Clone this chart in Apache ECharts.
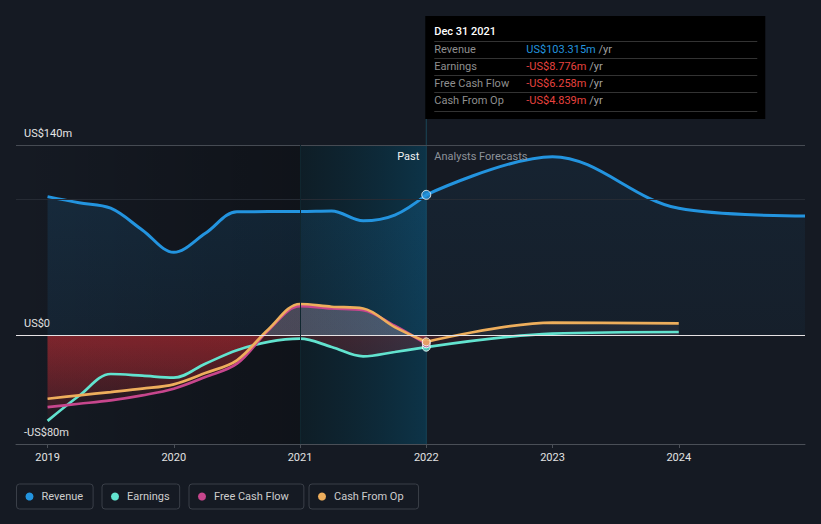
<!DOCTYPE html>
<html><head><meta charset="utf-8">
<script src="https://cdn.jsdelivr.net/npm/echarts@6/dist/echarts.min.js"></script>
<style>html,body{margin:0;padding:0;background:#151a23;}#c{width:821px;height:524px;}</style>
</head><body><div id="c"></div>
<script>
// ---- data (US$ millions, x = decimal year) ----
const periods = [2019, 2019.25, 2019.5, 2019.75, 2020, 2020.25, 2020.5, 2020.75, 2021, 2021.25, 2021.5, 2021.75, 2022];
const forecastPeriods = [2023, 2024, 2025];
const revenuePast = [102, 97.5, 93.5, 77.5, 61, 75, 90.9, 91, 91, 91.4, 84.2, 88.4, 103.315];
const revenueForecast = [131.4, 93.4, 87.7];
const earningsPast = [-63, -44.5, -28.5, -29.7, -31.2, -20.9, -11, -4.9, -2.5, -8.6, -15.5, -12.3, -8.776];
const earningsForecast = [1.2, 2.4];
const fcfPast = [-52.8, -50.4, -47.9, -44.2, -39.3, -30.7, -20.9, 3.7, 21.4, 19.7, 18.4, 7, -6.258];
const cfoPast = [-46.7, -44.2, -41.8, -39.3, -36.1, -27.8, -18.4, 4.5, 23, 21, 19.7, 6, -4.839];
const cfoForecast = [9.3, 8.8];
const xTicks = [2019, 2020, 2021, 2022, 2023, 2024];
const yTicks = [-80, 0, 140];
const yGuide = 100;
const names = ['Revenue', 'Earnings', 'Free Cash Flow', 'Cash From Op'];
const colors = ['#2394df', '#62e3cf', '#c7468d', '#eeae5c'];
const tooltipDate = 'Dec 31 2021';
const pastLabel = 'Past';
const forecastLabel = 'Analysts Forecasts';
const xMin = 2018.75, xMax = 2025, yMin = -80, yMax = 140;
const nowX = periods[periods.length - 1];
const pastStartX = 2021;

const FONT = 'Roboto, "Noto Sans", sans-serif';
const pairs = (xs, ys) => ys.map((v, i) => [xs[i], v]);
const last = a => a[a.length - 1];
const fc = (past, f) => [[nowX, last(past)]].concat(pairs(forecastPeriods, f));
const fmtMoney = v => (v < 0 ? '-' : '') + 'US$' + Math.abs(v).toFixed(3) + 'm';
const fmtTick = v => v === 0 ? 'US$0' : (v < 0 ? '-' : '') + 'US$' + Math.abs(v) + 'm';

const chart = echarts.init(document.getElementById('c'), null, {renderer: 'svg'});

function revFill(px, k) {
  if (!px) return 'rgba(0,0,0,0)';
  return {type: 'linear', global: true, x: 0, y: px.yTop, x2: 0, y2: px.y0, colorStops: [
    {offset: 0, color: `rgba(35,148,223,${0.22 * k})`},
    {offset: 1, color: `rgba(35,148,223,${0.12 * k})`}]};
}
function cashFill(px, k) {
  if (!px) return 'rgba(0,0,0,0)';
  const z = (px.y0 - px.yTop) / (px.yBot - px.yTop);
  return {type: 'linear', global: true, x: 0, y: px.yTop, x2: 0, y2: px.yBot, colorStops: [
    {offset: 0, color: `rgba(215,178,200,${0.22 * k})`},
    {offset: z, color: `rgba(215,178,200,${0.22 * k})`},
    {offset: z, color: `rgba(200,45,52,${0.36 * k})`},
    {offset: 1, color: `rgba(200,45,52,${0.04 * k})`}]};
}
function lineSeries(name, color, data, fill, width) {
  return {type: 'line', name, color, data, smooth: 0.35, showSymbol: false,
    lineStyle: {color, width}, areaStyle: {color: fill, origin: 0}, silent: true, z: 3};
}

function build(px) {
  const graphic = [];
  if (px) {
    const tipTop = 16, tipH = 103, tipLeft = px.xNow - 1, tipW = 340;
    graphic.push({type: 'line', shape: {x1: px.xNow, y1: tipTop + tipH, x2: px.xNow, y2: px.yBot},
      style: {stroke: '#1a4558', lineWidth: 1}, z: 1});
    graphic.push({type: 'text', x: px.xNow - 7, y: px.yTop + 11,
      style: {text: pastLabel, fill: '#f2f2f2', font: '11px ' + FONT, align: 'right', verticalAlign: 'middle'}, z: 10});
    graphic.push({type: 'text', x: px.xNow + 8, y: px.yTop + 11,
      style: {text: forecastLabel, fill: '#8d929a', font: '11px ' + FONT, align: 'left', verticalAlign: 'middle'}, z: 10});
    const tip = [{type: 'rect', shape: {x: tipLeft, y: tipTop, width: tipW, height: tipH}, style: {fill: '#000'}},
      {type: 'text', x: tipLeft + 9, y: tipTop + 15, style: {text: tooltipDate, fill: '#ffffff', font: '500 11px ' + FONT, verticalAlign: 'middle'}}];
    const sepYs = [41.5, 58.5, 75.5, 92.5, 111.5];
    sepYs.forEach(y => tip.push({type: 'line', shape: {x1: tipLeft + 9, y1: y, x2: tipLeft + tipW - 8, y2: y}, style: {stroke: '#333', lineWidth: 1}}));
    const vals = [last(revenuePast), last(earningsPast), last(fcfPast), last(cfoPast)];
    vals.forEach((v, i) => {
      const y = sepYs[i] + 8.2;
      tip.push({type: 'text', x: tipLeft + 9, y, style: {text: names[i], fill: '#8f8f8f', font: '11px ' + FONT, verticalAlign: 'middle'}});
      tip.push({type: 'text', x: tipLeft + 101, y, style: {
        text: `{v|${fmtMoney(v)}} {u|/yr}`, verticalAlign: 'middle', font: '11px ' + FONT,
        rich: {v: {fill: v < 0 ? '#e8433f' : '#2394df', font: '11px ' + FONT}, u: {fill: '#a0a0a0', font: '11px ' + FONT}}}});
    });
    graphic.push({type: 'group', children: tip, z: 20});
  }
  const legendLefts = [16.5, 102, 189, 309];
  const legendPadRight = [10, 10, 15, 15];
  return {
    backgroundColor: '#151a23',
    animation: false,
    textStyle: {fontFamily: FONT},
    grid: {left: 16, right: 16, top: 145, bottom: 80},
    xAxis: {type: 'value', min: xMin, max: xMax,
      axisLine: {onZero: false, lineStyle: {color: '#4a4f57'}},
      axisTick: {show: true, customValues: xTicks, length: 4, lineStyle: {color: '#4a4f57'}},
      axisLabel: {customValues: xTicks, color: '#e2e2e2', fontSize: 11, margin: 8, fontFamily: FONT, formatter: v => String(v)},
      splitLine: {show: false}},
    yAxis: {type: 'value', min: yMin, max: yMax,
      axisLine: {show: false}, axisTick: {show: false}, splitLine: {show: false},
      axisLabel: {inside: true, customValues: yTicks, formatter: fmtTick, color: '#e6e6e6', fontSize: 11, fontFamily: FONT,
        verticalAlign: 'bottom', margin: 8, padding: [0, 0, 6, 0]}},
    legend: names.map((n, i) => ({data: [{name: n, icon: 'circle'}], left: legendLefts[i], top: 484,
      itemWidth: 14, itemHeight: 8, itemGap: 0, padding: [7, legendPadRight[i], 7, 9], borderColor: '#3a3f48', borderWidth: 1, borderRadius: 3,
      textStyle: {color: '#cdcdcd', fontSize: 11, fontFamily: FONT}})),
    series: [
      {type: 'line', name: '_bands', data: [], silent: true, z: 1,
        markArea: {silent: true, data: [
          [{xAxis: xMin, itemStyle: {color: {type: 'linear', x: 0, y: 0, x2: 1, y2: 0, colorStops: [
            {offset: 0, color: 'rgba(0,0,0,0)'}, {offset: 1, color: 'rgba(0,0,0,0.28)'}]}}}, {xAxis: pastStartX}],
          [{xAxis: pastStartX, itemStyle: {color: {type: 'linear', x: 0, y: 0, x2: 1, y2: 0, colorStops: [
            {offset: 0, color: 'rgba(8,33,42,0.5)'}, {offset: 1, color: 'rgba(10,60,84,0.75)'}]}}}, {xAxis: nowX}]]}},
      {type: 'line', name: '_guides', data: [], silent: true, z: 2,
        markLine: {silent: true, symbol: 'none', label: {show: false}, data: [
          {yAxis: yMax, lineStyle: {color: '#464b53', width: 1, type: 'solid'}},
          {yAxis: yGuide, lineStyle: {color: '#262b34', width: 1, type: 'solid'}},
          {yAxis: 0, lineStyle: {color: '#e6e2e4', width: 1, type: 'solid'}},
          {xAxis: pastStartX, lineStyle: {color: '#10262f', width: 1, type: 'solid'}}]}},
      lineSeries(names[0], colors[0], pairs(periods, revenuePast), revFill(px, 1), 3),
      lineSeries(names[0], colors[0], fc(revenuePast, revenueForecast), revFill(px, 0.5), 3),
      lineSeries(names[1], colors[1], pairs(periods, earningsPast), cashFill(px, 1), 2.7),
      lineSeries(names[1], colors[1], fc(earningsPast, earningsForecast), cashFill(px, 0.45), 2.7),
      lineSeries(names[2], colors[2], pairs(periods, fcfPast), cashFill(px, 1), 2.7),
      lineSeries(names[3], colors[3], pairs(periods, cfoPast), cashFill(px, 1), 2.7),
      lineSeries(names[3], colors[3], fc(cfoPast, cfoForecast), cashFill(px, 0.45), 2.7),
      {type: 'scatter', name: '_now', silent: true, z: 5, symbolSize: 8,
        itemStyle: {borderColor: '#ffffff', borderWidth: 1},
        data: [
          {value: [nowX, last(earningsPast)], itemStyle: {color: colors[1]}},
          {value: [nowX, last(fcfPast)], itemStyle: {color: colors[2]}},
          {value: [nowX, last(cfoPast)], itemStyle: {color: colors[3]}},
          {value: [nowX, last(revenuePast)], symbolSize: 9, itemStyle: {color: colors[0]}}]}
    ],
    graphic
  };
}

chart.setOption(build(null));
const px = {
  yTop: chart.convertToPixel({yAxisIndex: 0}, yMax),
  y0: chart.convertToPixel({yAxisIndex: 0}, 0),
  yBot: chart.convertToPixel({yAxisIndex: 0}, yMin),
  xNow: chart.convertToPixel({xAxisIndex: 0}, nowX)
};
chart.setOption(build(px), true);
</script></body></html>
